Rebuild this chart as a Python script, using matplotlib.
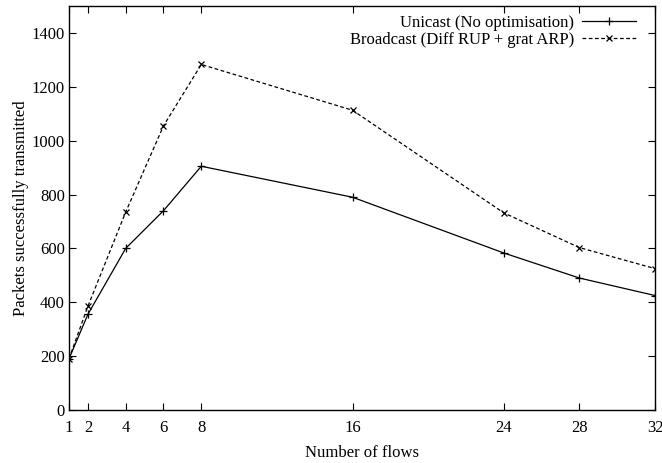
import numpy as np
import matplotlib
matplotlib.use('Agg')
import matplotlib.pyplot as plt

plt.rcParams['font.family'] = ['Liberation Serif', 'DejaVu Serif']

flows = [1, 2, 4, 6, 8, 16, 24, 28, 32]
unicast = [190, 355, 600, 740, 905, 790, 583, 490, 425]
broadcast = [190, 385, 735, 1055, 1283, 1113, 732, 603, 525]
yticks = [0, 200, 400, 600, 800, 1000, 1200, 1400]

fig = plt.figure(figsize=(6.62, 4.63), dpi=100)
ax = fig.add_axes([0.1042, 0.1145, 0.8852, 0.8725])

ax.plot(flows, unicast, color='black', lw=0.9, marker='+', ms=6, mew=0.9,
        label='Unicast (No optimisation)')
ax.plot(flows, broadcast, color='black', lw=0.9, ls=(0, (3, 2)), marker='x', ms=5, mew=0.9,
        label='Broadcast (Diff RUP + grat ARP)')

ax.set_xlim(1, 32)
ax.set_ylim(0, 1500)
ax.set_xticks(flows)
ax.set_yticks(yticks)
ax.tick_params(direction='in', top=True, right=True, labelsize=12, length=5, width=0.8)
ax.tick_params(axis='y', pad=3)
ax.tick_params(axis='x', pad=7)
for s in ax.spines.values():
    s.set_linewidth(1.0)

ax.set_xlabel('Number of flows', fontsize=12, labelpad=7)
ax.set_ylabel('Packets successfully transmitted', fontsize=12, labelpad=2)

ax.legend(loc='upper right', bbox_to_anchor=(0.984, 1.003), frameon=False, markerfirst=False,
          fontsize=12, handlelength=3.2, borderaxespad=0.2, labelspacing=0.05, handletextpad=0.5)

fig.savefig('out.png', dpi=100)
